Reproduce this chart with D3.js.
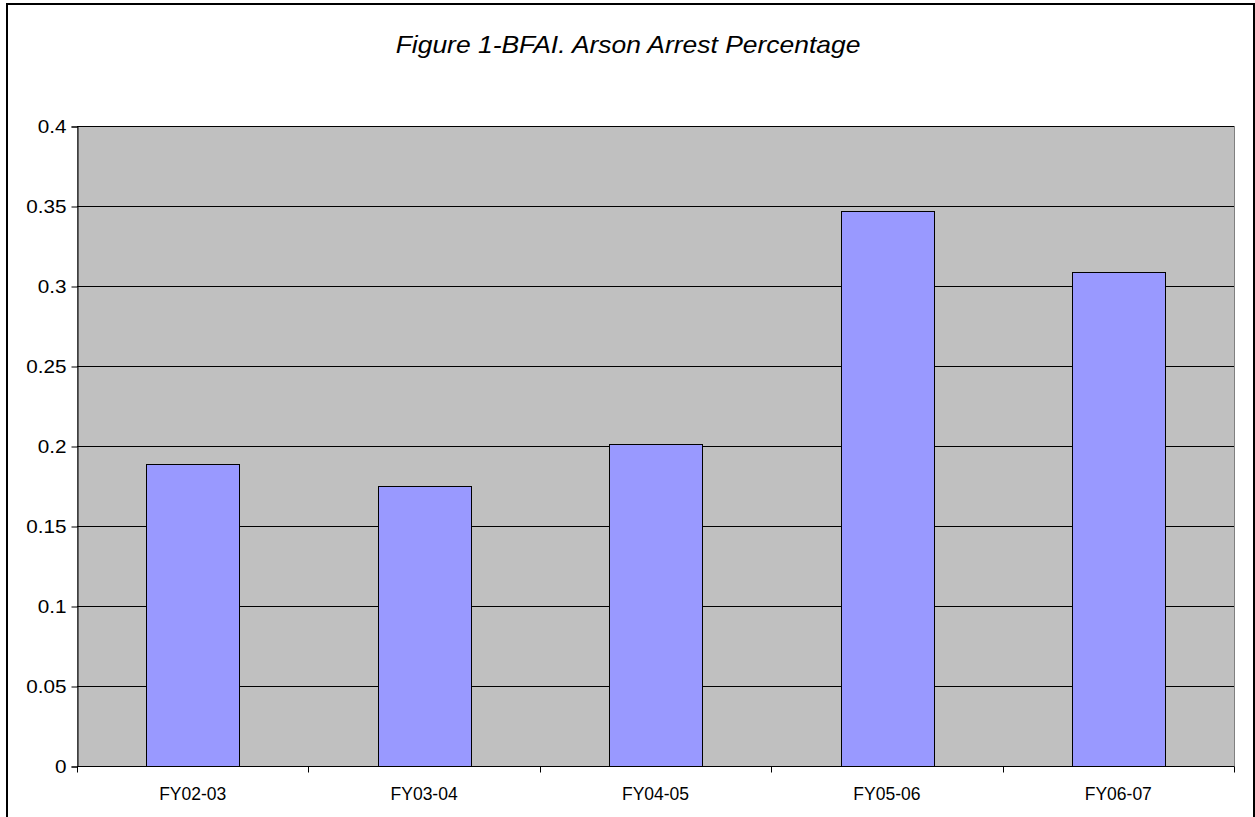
<!DOCTYPE html>
<html>
<head>
<meta charset="utf-8">
<script src="https://cdn.jsdelivr.net/npm/d3@7"></script>
<style>
  html, body { margin: 0; padding: 0; background: #fff; }
  svg { display: block; }
  text { font-family: "Liberation Sans", Arial, sans-serif; fill: #000; }
</style>
</head>
<body>
<svg id="chart" width="1255" height="817"></svg>
<script>
// Arson arrest percentage by fiscal year
const categories = ["FY02-03", "FY03-04", "FY04-05", "FY05-06", "FY06-07"];
const arrestRate = [0.1886, 0.1748, 0.2015, 0.347, 0.309];
const yTicks = [0, 0.05, 0.1, 0.15, 0.2, 0.25, 0.3, 0.35, 0.4];
const yTickLabels = ["0", "0.05", "0.1", "0.15", "0.2", "0.25", "0.3", "0.35", "0.4"];
const title = "Figure 1-BFAI. Arson Arrest Percentage";

const W = 1255, H = 817;
const plot = { left: 77, right: 1234, top: 126, bottom: 766 };

const svg = d3.select("#chart");

// outer frame
svg.append("rect")
  .attr("x", 7).attr("y", 4)
  .attr("width", 1247).attr("height", H + 10)
  .attr("fill", "none").attr("stroke", "#000").attr("stroke-width", 2);

// title (slightly widened face)
svg.append("text")
  .attr("transform", "translate(628,53) scale(1.15,1)")
  .attr("text-anchor", "middle")
  .style("font-size", "23px")
  .style("font-style", "italic")
  .text(title);

const x = d3.scaleBand()
  .domain(categories)
  .range([plot.left, plot.right])
  .paddingInner(0)
  .paddingOuter(0);

const y = d3.scaleLinear()
  .domain([0, 0.4])
  .range([plot.bottom, plot.top]);

// plot background
svg.append("rect")
  .attr("x", plot.left + 0.5).attr("y", plot.top + 0.5)
  .attr("width", plot.right - plot.left)
  .attr("height", plot.bottom - plot.top)
  .attr("fill", "#c0c0c0")
  .attr("stroke", "#808080").attr("stroke-width", 1);

// horizontal gridlines
svg.append("g")
  .selectAll("line")
  .data(yTicks.filter(t => t > 0))
  .join("line")
  .attr("x1", plot.left).attr("x2", plot.right)
  .attr("y1", d => Math.round(y(d)) + 0.5)
  .attr("y2", d => Math.round(y(d)) + 0.5)
  .attr("stroke", "#000").attr("stroke-width", 1);

// bars
const bw = x.bandwidth() * 0.4;
svg.append("g")
  .selectAll("rect")
  .data(categories.map((c, i) => ({ c, v: arrestRate[i] })))
  .join("rect")
  .attr("x", d => Math.round(x(d.c) + (x.bandwidth() - bw) / 2) + 0.5)
  .attr("y", d => Math.round(y(d.v)) + 0.5)
  .attr("width", Math.round(bw))
  .attr("height", d => Math.round(y(0)) - Math.round(y(d.v)))
  .attr("fill", "#9999ff")
  .attr("stroke", "#000").attr("stroke-width", 1);

// y axis
const yAxis = d3.axisLeft(y)
  .tickValues(yTicks)
  .tickFormat((d, i) => yTickLabels[i])
  .tickSize(6)
  .tickPadding(4);
const gy = svg.append("g")
  .attr("transform", `translate(${plot.left + 0.5},0.5)`)
  .call(yAxis);
gy.select(".domain").attr("stroke", "#000");
gy.selectAll(".tick line").attr("stroke", "#000");
gy.selectAll(".tick text")
  .attr("x", null).attr("dy", null)
  .attr("transform", "translate(-11,6) scale(1.15,1)")
  .style("font-size", "18px")
  .style("font-family", "Liberation Sans, Arial, sans-serif")
  .attr("fill", "#000");

// x axis: ticks at category boundaries, labels centred in each band
const gx = svg.append("g")
  .attr("transform", `translate(0,${plot.bottom + 0.5})`);
gx.append("line")
  .attr("x1", plot.left).attr("x2", plot.right)
  .attr("stroke", "#000");
const bounds = categories.map(c => x(c)).concat([x.range()[1]]);
gx.selectAll("line.tick")
  .data(bounds)
  .join("line")
  .attr("class", "tick")
  .attr("x1", d => Math.round(d) + 0.5).attr("x2", d => Math.round(d) + 0.5)
  .attr("y1", 0).attr("y2", 6)
  .attr("stroke", "#000");
gx.selectAll("text")
  .data(categories)
  .join("text")
  .attr("x", d => x(d) + x.bandwidth() / 2)
  .attr("y", 33)
  .attr("text-anchor", "middle")
  .style("font-size", "17.5px")
  .text(d => d);
</script>
</body>
</html>
